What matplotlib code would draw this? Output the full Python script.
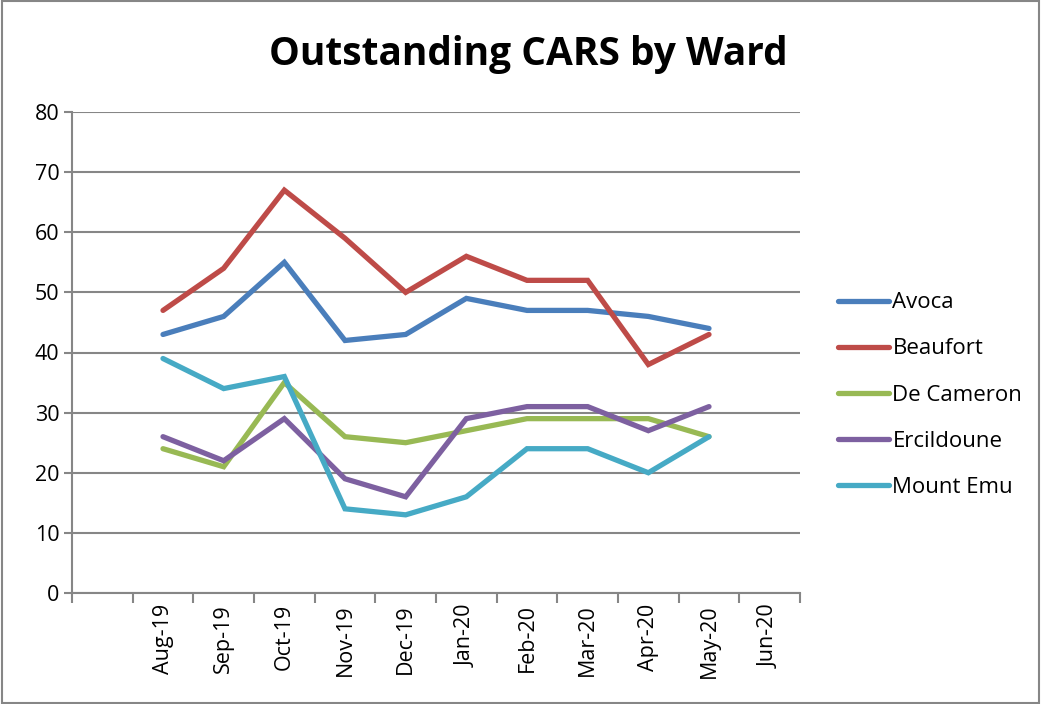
import matplotlib.pyplot as plt
from matplotlib.patches import Rectangle

# category slots (first slot is blank in the source chart)
months = ['', 'Aug-19', 'Sep-19', 'Oct-19', 'Nov-19', 'Dec-19', 'Jan-20',
          'Feb-20', 'Mar-20', 'Apr-20', 'May-20', 'Jun-20']

# values for Aug-19 .. May-20
avoca = [43, 46, 55, 42, 43, 49, 47, 47, 46, 44]
beaufort = [47, 54, 67, 59, 50, 56, 52, 52, 38, 43]
de_cameron = [24, 21, 35, 26, 25, 27, 29, 29, 29, 26]
ercildoune = [26, 22, 29, 19, 16, 29, 31, 31, 27, 31]
mount_emu = [39, 34, 36, 14, 13, 16, 24, 24, 20, 26]

series = [('Avoca', avoca, '#4A7EBB'),
          ('Beaufort', beaufort, '#BE4B48'),
          ('De Cameron', de_cameron, '#98B954'),
          ('Ercildoune', ercildoune, '#7D60A0'),
          ('Mount Emu', mount_emu, '#46AAC5')]

plt.rcParams['font.family'] = ['Open Sans', 'DejaVu Sans']
grey = '#868686'

fig = plt.figure(figsize=(10.41, 7.04), dpi=100)
ax = fig.add_axes([72 / 1041, 1 - 593 / 704, (800 - 72) / 1041, (593 - 112) / 704])

x = list(range(1, 1 + len(avoca)))
for name, vals, col in series:
    ax.plot(x, vals, color=col, lw=3.8, label=name, solid_capstyle='round',
            solid_joinstyle='miter')

ax.set_xlim(-0.5, len(months) - 0.5)
ax.set_ylim(0, 80)
ax.set_yticks(range(0, 81, 10))
ax.grid(axis='y', color=grey, lw=1.5)
ax.set_axisbelow(True)

ax.set_xticks([i - 0.5 for i in range(len(months) + 1)])
ax.set_xticklabels([])
ax.set_xticks(range(len(months)), minor=True)
ax.set_xticklabels(months, minor=True, rotation=90, fontsize=15.5)
ax.tick_params(axis='x', which='major', length=7, width=1.5, color=grey, direction='out')
ax.tick_params(axis='x', which='minor', length=0, pad=8)
ax.tick_params(axis='y', length=6, width=1.5, color=grey, labelsize=15.5, pad=3)

for s in ['top', 'right']:
    ax.spines[s].set_visible(False)
for s in ['left', 'bottom']:
    ax.spines[s].set_color(grey)
    ax.spines[s].set_linewidth(1.5)

fig.text(528 / 1041, 1 - 55 / 704, 'Outstanding CARS by Ward', ha='center', va='center',
         fontsize=28, fontweight='bold')

leg = ax.legend(loc='center left', bbox_to_anchor=(838 / 1041, 1 - 395 / 704),
                bbox_transform=fig.transFigure, frameon=False, borderpad=0,
                borderaxespad=0, fontsize=16, handlelength=2.3, handletextpad=0.15,
                labelspacing=1.13)
for h in leg.get_lines():
    h.set_linewidth(3.8)

fig.patches.append(Rectangle((0.002, 0.002), 0.996, 0.996, transform=fig.transFigure,
                             fill=False, edgecolor=grey, lw=1.5))

fig.savefig('out.png', dpi=100)
